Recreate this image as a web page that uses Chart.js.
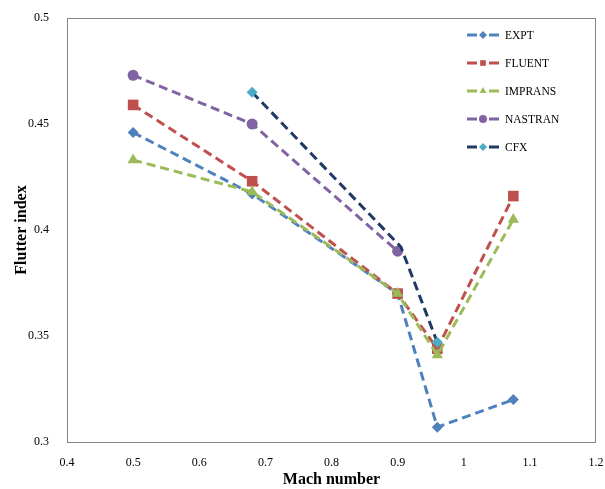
<!DOCTYPE html>
<html>
<head>
<meta charset="utf-8">
<script src="https://cdn.jsdelivr.net/npm/chart.js@4/dist/chart.umd.min.js"></script>
<style>
  body { margin: 0; background: #fff; }
  #wrap { width: 605px; height: 489px; }
</style>
</head>
<body>
<div id="wrap"><canvas id="flutterChart"></canvas></div>
<script>
const machExpt = [0.5, 0.68, 0.9, 0.96, 1.075];
const expt = [0.446, 0.417, 0.37, 0.307, 0.32];
const fluent = [0.459, 0.423, 0.37, 0.344, 0.416];
const imprans = [0.433, 0.418, 0.37, 0.341, 0.405];
const machNastran = [0.5, 0.68, 0.9];
const nastran = [0.473, 0.45, 0.39];
const machCfx = [0.68, 0.905, 0.96];
const cfx = [0.465, 0.392, 0.347];

const fontFamily = "'Liberation Serif', 'Times New Roman', serif";

const toPoints = (xs, ys) => xs.map((x, i) => ({ x: x, y: ys[i] }));

const series = [
    { label: "EXPT", data: toPoints(machExpt, expt), line: "#4F81BD", marker: "#4F81BD", style: "rectRot", radius: 5.5 },
    { label: "FLUENT", data: toPoints(machExpt, fluent), line: "#C0504D", marker: "#C0504D", style: "rect", radius: 7.5 },
    { label: "IMPRANS", data: toPoints(machExpt, imprans), line: "#9BBB59", marker: "#9BBB59", style: "triangle", radius: 6.5 },
    { label: "NASTRAN", data: toPoints(machNastran, nastran), line: "#8064A2", marker: "#8064A2", style: "circle", radius: 5.5 },
    { label: "CFX", data: toPoints(machCfx, cfx), line: "#1F3864", marker: "#4BACC6", style: "rectRot", radius: 5.5, hide: [1] },
];

// later series are painted on top, like the original
const datasets = series.map((s, i) => ({
    label: s.label,
    data: s.data,
    order: series.length - i,
    borderColor: s.line,
    backgroundColor: s.marker,
    pointBackgroundColor: s.marker,
    pointBorderColor: s.marker,
    pointBorderWidth: 0,
    pointStyle: s.style,
    pointRadius: s.data.map((p, j) => (s.hide && s.hide.includes(j) ? 0 : s.radius)),
    borderWidth: 3,
    borderDash: [9, 5],
    showLine: true,
    tension: 0,
}));

// frame around plot area and a legend drawn inside it
const framePlugin = {
    id: "frame",
    beforeDatasetsDraw(chart) {
        const { ctx, chartArea } = chart;
        ctx.save();
        ctx.strokeStyle = "#868686";
        ctx.lineWidth = 1;
        ctx.strokeRect(chartArea.left + 0.5, chartArea.top + 0.5,
            chartArea.right - chartArea.left - 1, chartArea.bottom - chartArea.top);
        ctx.restore();
    },
    afterDraw(chart) {
        const { ctx } = chart;
        ctx.save();
        series.forEach((s, i) => {
            const y = 35 + i * 28;
            ctx.strokeStyle = s.line;
            ctx.lineWidth = 3;
            ctx.setLineDash([]);
            ctx.beginPath();
            ctx.moveTo(467, y);
            ctx.lineTo(477, y);
            ctx.moveTo(489, y);
            ctx.lineTo(499, y);
            ctx.stroke();
            ctx.fillStyle = s.marker;
            ctx.strokeStyle = s.marker;
            ctx.lineWidth = 1;
            Chart.helpers.drawPoint(ctx, { pointStyle: s.style, radius: 4, rotation: 0 }, 483, y);
            ctx.fillStyle = "#000";
            ctx.font = "11.5px " + fontFamily;
            ctx.textBaseline = "middle";
            ctx.fillText(s.label, 505, y + 1);
        });
        ctx.restore();
    },
};

new Chart(document.getElementById("flutterChart"), {
    type: "scatter",
    data: { datasets: datasets },
    plugins: [framePlugin],
    options: {
        responsive: true,
        maintainAspectRatio: false,
        animation: false,
        layout: { padding: { top: 18, right: 0, left: 0, bottom: 0 } },
        plugins: {
            legend: { display: false },
            tooltip: { enabled: false },
        },
        scales: {
            x: {
                type: "linear",
                min: 0.4,
                max: 1.2,
                ticks: {
                    stepSize: 0.1,
                    color: "#000",
                    padding: 6,
                    font: { size: 12, family: fontFamily },
                    callback: (v) => String(+v.toFixed(2)),
                },
                grid: { display: false },
                border: { display: false },
                title: {
                    display: true,
                    text: "Mach number",
                    color: "#000",
                    padding: { top: 4, bottom: 0 },
                    font: { size: 16, weight: "bold", family: fontFamily },
                },
                afterFit: (scale) => {
                    scale.height = 47;
                    scale.paddingRight = 9;
                },
            },
            y: {
                type: "linear",
                min: 0.3,
                max: 0.5,
                ticks: {
                    stepSize: 0.05,
                    color: "#000",
                    padding: 10,
                    font: { size: 12, family: fontFamily },
                    callback: (v) => String(+v.toFixed(2)),
                },
                grid: { display: false },
                border: { display: false },
                title: {
                    display: true,
                    text: "Flutter index",
                    color: "#000",
                    padding: { top: 12, bottom: 4 },
                    font: { size: 16, weight: "bold", family: fontFamily },
                },
                afterFit: (scale) => { scale.width = 67; },
            },
        },
    },
});
</script>
</body>
</html>
